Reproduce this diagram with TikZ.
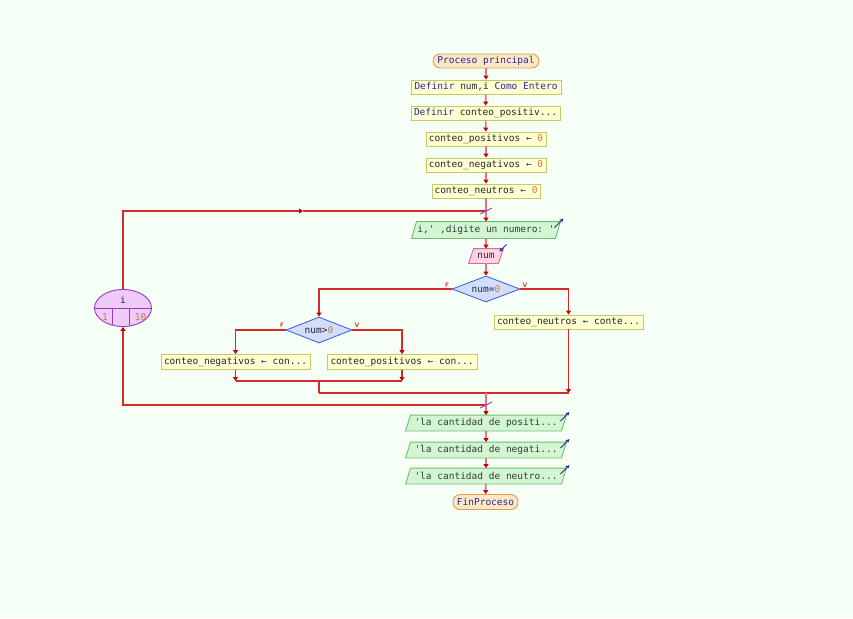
\documentclass[tikz,border=0pt]{standalone}
\usepackage{fontspec}
\setmonofont{DejaVu Sans Mono}
\usetikzlibrary{shapes.geometric,arrows.meta,backgrounds,calc}
\definecolor{bgc}{HTML}{F5FFF5}
\definecolor{mainln}{HTML}{E07878}
\definecolor{brln}{HTML}{D42A2A}
\definecolor{tipc}{HTML}{C80000}
\definecolor{termfill}{HTML}{FCE8C4}
\definecolor{termdraw}{HTML}{D8A050}
\definecolor{procfill}{HTML}{FFFFD2}
\definecolor{procdraw}{HTML}{C8C864}
\definecolor{outfill}{HTML}{D4F5D4}
\definecolor{outdraw}{HTML}{6CC06C}
\definecolor{infill}{HTML}{FFD2E4}
\definecolor{indraw}{HTML}{D070A0}
\definecolor{decfill}{HTML}{D2DEFF}
\definecolor{decdraw}{HTML}{4A66D0}
\definecolor{loopfill}{HTML}{F0CAF8}
\definecolor{loopdraw}{HTML}{9040C0}
\definecolor{kw}{HTML}{2828A0}
\definecolor{numc}{HTML}{C08040}
\definecolor{txt}{HTML}{282828}
\definecolor{strc}{HTML}{304030}
\definecolor{iodir}{HTML}{2A2A90}
\definecolor{slashc}{HTML}{9040D0}
\newcommand\nz{{\color{numc}0}}
\newcommand\asg{{\color{kw}←}}
\tikzset{
  base/.style={font=\ttfamily\fontsize{9.5}{11}\selectfont, text=txt, inner sep=0pt, line width=0.9pt},
  term/.style={base, draw=termdraw, fill=termfill, rounded corners=7pt, minimum height=14pt},
  proc/.style={base, draw=procdraw, fill=procfill, minimum height=14pt},
  iobox/.style={base, minimum height=15pt},
  dec/.style={base, diamond, aspect=2.6, draw=decdraw, fill=decfill, minimum width=68pt, minimum height=26pt},
  loopnode/.style={base, ellipse, draw=loopdraw, fill=loopfill, minimum width=57pt, minimum height=37pt},
  tip/.style={-{Triangle[length=4pt,width=5pt,color=tipc]}},
  mline/.style={draw=mainln, line width=1.6pt},
  bline/.style={draw=brln, line width=1.1pt},
  fv/.style={font=\sffamily\bfseries\fontsize{6.5}{7}\selectfont, text=brln, inner sep=0pt},
  slash/.style={draw=slashc, line width=0.9pt},
  iodirarrow/.style={draw=iodir, line width=0.9pt, -{Stealth[length=4pt,width=4pt]}},
}
\newcommand\outshape[1]{\filldraw[fill=outfill, draw=outdraw, line width=0.9pt] (#1.south west) -- ([xshift=5pt]#1.north west) -- (#1.north east) -- ([xshift=-5pt]#1.south east) -- cycle;}
\begin{document}
\begin{tikzpicture}[x=1pt,y=-1pt]
\begin{pgfonlayer}{background}
\fill[bgc] (0,0) rectangle (853,618);
\end{pgfonlayer}
\useasboundingbox (0,0) rectangle (853,618);

% main column
\node[term, minimum width=106pt, text=kw] (start) at (486,61) {Proceso principal};
\node[proc, minimum width=150pt] (def1) at (486,87) {{\color{kw}Definir} num,i {\color{kw}Como Entero}};
\node[proc, minimum width=149pt] (def2) at (485.5,113) {{\color{kw}Definir} conteo\_positiv...};
\node[proc, minimum width=120pt] (a1) at (486,139) {conteo\_positivos \asg{} \nz};
\node[proc, minimum width=120pt] (a2) at (486,165) {conteo\_negativos \asg{} \nz};
\node[proc, minimum width=108pt] (a3) at (486,191) {conteo\_neutros \asg{} \nz};
\coordinate (j1) at (486,211);
\coordinate (m1) at (303,211);
\node[iobox, minimum width=148pt, text=strc, minimum height=16pt] (io1) at (486,230) {i,' ,digite un numero: '};
\node[iobox, minimum width=34pt, minimum height=14pt] (in1) at (486,256) {num};
\node[dec] (d1) at (486,289) {num=\nz};
\node[proc, minimum width=149pt] (b3) at (568.5,322) {conteo\_neutros \asg{} conte...};
\node[dec, minimum width=66pt] (d2) at (319,330) {num>\nz};
\node[proc, minimum width=149pt, minimum height=15pt] (b1) at (235.5,362) {conteo\_negativos \asg{} con...};
\node[proc, minimum width=150pt, minimum height=15pt] (b2) at (402,362) {conteo\_positivos \asg{} con...};
\coordinate (c1) at (319,381);
\coordinate (c2) at (486,393);
\coordinate (j2) at (486,405);
\node[iobox, minimum width=160pt, text=strc] (o1) at (486,423) {'la cantidad de positi...};
\node[iobox, minimum width=160pt, text=strc] (o2) at (486,450) {'la cantidad de negati...};
\node[iobox, minimum width=160pt, text=strc] (o3) at (486,476) {'la cantidad de neutro...};
\node[term, minimum width=65pt, minimum height=15pt, text=kw] (fin) at (485.5,502) {FinProceso};

% loop ellipse
\node[loopnode] (loop) at (123,308) {};
\draw[draw=loopdraw, line width=0.9pt] (loop.west) -- (loop.east);
\draw[draw=loopdraw, line width=0.9pt] ([xshift=-11pt]loop.center) -- ++(0,17.2);
\draw[draw=loopdraw, line width=0.9pt] ([xshift=6pt]loop.center) -- ++(0,18.1);
\node[base] (lvar) at (123,300) {i};
\node[base, text=numc] (lfrom) at (105,317) {1};
\node[base, text=numc] (lto) at (140.5,317) {10};

% io shapes (background)
\begin{pgfonlayer}{background}
\outshape{io1}
\outshape{o1}
\outshape{o2}
\outshape{o3}
\filldraw[fill=infill, draw=indraw, line width=0.9pt] (in1.south west) -- ([xshift=5pt]in1.north west) -- (in1.north east) -- ([xshift=-5pt]in1.south east) -- cycle;
\end{pgfonlayer}

% io direction arrows
\draw[iodirarrow] ([shift={(-6,6)}]io1.north east) -- ++(9,-9);
\draw[iodirarrow] ([shift={(-6,6)}]o1.north east) -- ++(9,-9);
\draw[iodirarrow] ([shift={(-6,6)}]o2.north east) -- ++(9,-9);
\draw[iodirarrow] ([shift={(-6,6)}]o3.north east) -- ++(9,-9);
\draw[iodirarrow] ([shift={(3,-4)}]in1.north east) -- ++(-7,7);

% main connectors
\draw[mline, tip] (start) -- (def1);
\draw[mline, tip] (def1) -- (def2);
\draw[mline, tip] (def2) -- (a1);
\draw[mline, tip] (a1) -- (a2);
\draw[mline, tip] (a2) -- (a3);
\draw[mline] (a3) -- (j1);
\draw[mline, tip] (j1) -- (io1);
\draw[mline, tip] (io1) -- (in1);
\draw[mline, tip] (in1) -- (d1);

% decision 1
\draw[bline, tip] (d1.west) -| (d2.north);
\draw[bline, tip] (d1.east) -| (b3.north);
\node[fv] (f1) at (447,285) {F};
\node[fv] (v1) at (525,285) {V};
% decision 2
\draw[bline, tip] (d2.west) -| (b1.north);
\draw[bline, tip] (d2.east) -| (b2.north);
\node[fv] (f2) at (282,325) {F};
\node[fv] (v2) at (357,325) {V};

% joins
\draw[bline, tip] (b1.south) -- (b1.south |- c1);
\draw[bline, tip] (b2.south) -- (b2.south |- c1);
\draw[bline] (b1.south |- c1) -- (b2.south |- c1);
\draw[bline] (c1) -- (c1 |- c2);
\draw[bline, tip] (b3.south) -- (b3.south |- c2);
\draw[bline] (c1 |- c2) -- (b3.south |- c2);
\draw[mline] (c2) -- (j2);
\draw[mline, tip] (j2) -- (o1);
\draw[mline, tip] (o1) -- (o2);
\draw[mline, tip] (o2) -- (o3);
\draw[mline, tip] (o3) -- (fin);

% loop lines
\draw[bline, tip] (j2) -| (loop.south);
\draw[bline, tip] (loop.north) |- (m1);
\draw[bline] (m1) -- (j1);

% slash marks
\draw[slash] ([shift={(-6,3)}]j1) -- ([shift={(6,-3)}]j1);
\draw[slash] ([shift={(-6,3)}]j2) -- ([shift={(6,-3)}]j2);
\end{tikzpicture}
\end{document}
